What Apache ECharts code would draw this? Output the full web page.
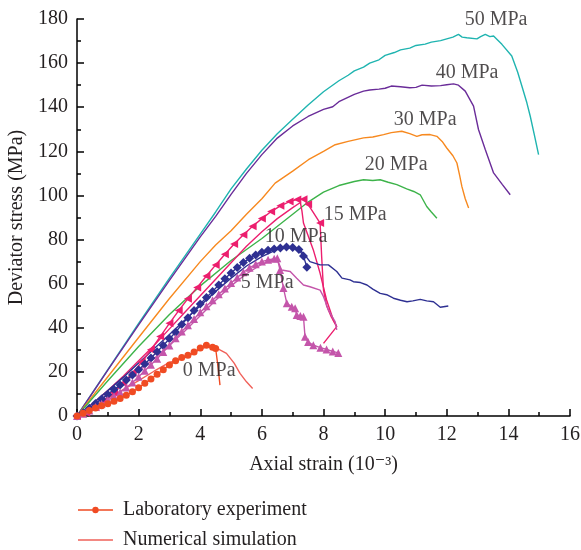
<!DOCTYPE html>
<html>
<head>
<meta charset="utf-8">
<script src="https://cdn.jsdelivr.net/npm/echarts@6/dist/echarts.min.js"></script>
<style>
html,body{margin:0;padding:0;background:#fff;}
#chart{width:581px;height:550px;}
</style>
</head>
<body>
<div id="chart"></div>
<script>
// ---- data (strain 10^-3, deviator stress MPa) ----
const xTicks = [0, 2, 4, 6, 8, 10, 12, 14, 16];
const yTicks = [0, 20, 40, 60, 80, 100, 120, 140, 160, 180];

const curve50 = [[0,0],[1,21],[2,42],[3,62.5],[4,82.5],[4.5,92.5],[5,103],[5.5,112],[6,120.5],[6.5,128],[7,134.5],[7.5,141],[8,147],[8.5,152],[8.8,154.5],[9,156.5],[9.3,158.2],[9.5,160],[9.8,161.5],[10,163.5],[10.3,164.8],[10.5,166],[10.8,166.8],[11,168],[11.3,168.6],[11.5,169.5],[11.8,170.2],[12,171],[12.2,171.8],[12.38,173],[12.5,171.8],[12.65,171.5],[12.98,171],[13.1,172],[13.25,173],[13.4,172],[13.52,172.3],[13.65,170.5],[13.79,168.5],[14.11,163.2],[14.3,156],[14.44,149.5],[14.6,142],[14.71,135.9],[14.85,127],[14.98,118.5]];
const curve40 = [[0,0],[1,20.8],[2,41.3],[3,61.5],[4,81.2],[4.5,90.5],[5,100.5],[5.5,110],[6,118.5],[6.5,126],[7,131.5],[7.5,135.8],[8,139],[8.3,140.2],[8.5,142.5],[9,145.8],[9.3,147.3],[9.5,147.8],[9.8,148.2],[10,148.6],[10.2,149.6],[10.5,149.3],[10.8,148.8],[11,149],[11.2,150],[11.5,149.6],[11.8,149.8],[12,150.2],[12.22,150.6],[12.38,150],[12.6,147.3],[12.87,140.5],[13.03,129.9],[13.25,120.8],[13.52,110.2],[13.8,105],[14.06,100.3]];
const curve30 = [[0,0],[1,17.8],[2,35.6],[3,53.3],[4,70],[4.5,77.5],[5,84],[5.5,91.5],[6,98.5],[6.43,105.6],[7,111],[7.51,116.2],[8,120],[8.38,123],[8.8,124.5],[9.3,126.1],[9.6,126.5],[9.95,127.6],[10.2,128.5],[10.54,129.1],[10.8,128],[11.03,126.8],[11.2,127.5],[11.46,127.6],[11.68,126.8],[11.85,124.5],[12,121.5],[12.2,118],[12.33,114.7],[12.42,109],[12.49,104.1],[12.6,98.5],[12.71,94.3]];
const curve20 = [[0,0],[1,16],[2,31.5],[3,46],[4,59],[5,70.5],[6,80.5],[7,91.5],[7.5,97],[8,101.5],[8.5,104.5],[9,106.3],[9.3,107.1],[9.6,106.8],[9.84,107.1],[10.1,106],[10.38,104.9],[10.7,103],[10.93,101.8],[11.14,100.3],[11.35,95],[11.5,92.5],[11.68,89.7]];

const exp15 = [[0,0],[0.3,1.5],[0.6,4],[0.9,7],[1.2,10.5],[1.5,15],[1.8,19.5],[2.1,24.5],[2.4,30],[2.7,36],[3,42],[3.3,47.8],[3.6,53.2],[3.9,58.3],[4.2,63.5],[4.5,68.5],[4.8,73.3],[5.1,78],[5.4,82.2],[5.7,86],[6,89.5],[6.3,92.7],[6.6,95.3],[6.9,97.2],[7.15,98.2],[7.35,98.3],[7.5,96],[7.89,87.5]];
const exp15Tail = [[7.89,87.5],[7.94,72.3],[8,57.1],[8.1,50],[8.25,45],[8.43,40.5],[8,32.9]];
const sim15 = [[0,0],[0.5,5.5],[1,11.5],[1.5,18],[2,25],[2.5,32],[3,39.5],[3.5,47],[4,54.5],[4.5,62],[5,69.5],[5.5,77],[6,83.5],[6.5,89.5],[7,94.5],[7.25,96.8],[7.3,93],[7.35,87.5],[7.67,75.3],[7.89,64.7],[8.1,52.6],[8.32,43.5],[8.43,40.5]];

const exp10 = [[0,0],[0.2,1.5],[0.4,3.5],[0.6,5.7],[0.8,7.7],[1,9.8],[1.2,12],[1.4,14],[1.6,16.3],[1.8,18.6],[2,21],[2.2,23.6],[2.4,26.3],[2.6,29.1],[2.8,32],[3,35],[3.2,38],[3.4,41.5],[3.6,44.6],[3.8,47.8],[4,50.8],[4.2,53.7],[4.4,56.5],[4.6,59.4],[4.8,62.2],[5,64.8],[5.2,67.3],[5.4,69.6],[5.6,71.5],[5.8,73],[6,74.2],[6.2,75.1],[6.4,75.7],[6.6,76.2],[6.8,76.6],[7,76.4],[7.2,75.5],[7.35,72.5],[7.46,67.5]];
const sim10 = [[0,0],[0.5,5.5],[1,11.5],[1.5,17.5],[2,24],[2.5,30.5],[3,37],[3.5,43.5],[4,50],[4.5,56.5],[5,62.5],[5.5,68],[6,72.3],[6.5,75.5],[6.9,76.5],[7.2,75.5],[7.35,73.8],[7.56,70],[7.89,68.5],[8.16,68.5],[8.43,65.5],[8.6,62.5],[8.86,61.7],[8.97,60.9],[9.2,60.5],[9.41,59.4],[9.6,57.5],[9.84,55.6],[10.05,55],[10.27,53.4],[10.5,52.5],[10.71,51.8],[10.9,52.2],[11.14,52.9],[11.35,52.2],[11.57,51.8],[11.79,49.3],[12.05,49.9]];

const exp5 = [[0,0],[0.2,1],[0.4,2.5],[0.6,4.1],[0.8,5.6],[1,7.2],[1.2,9],[1.4,10.8],[1.6,12.9],[1.8,15.2],[2,17.8],[2.2,20.5],[2.4,23.2],[2.6,26],[2.8,29],[3,32],[3.2,35.2],[3.4,38.3],[3.6,41.2],[3.8,44],[4,47],[4.2,49.8],[4.4,52.5],[4.6,55.2],[4.8,57.8],[5,60.3],[5.2,62.8],[5.4,65.2],[5.6,67.2],[5.8,68.8],[6,70],[6.2,70.8],[6.4,71.3],[6.5,71.5],[6.59,66.2],[6.7,58],[6.81,51.1],[6.97,49.5],[7.08,48.8],[7.13,45.8],[7.25,45.3],[7.35,45],[7.4,35.9],[7.5,33.5],[7.67,32.1],[7.9,31],[8.1,30.2],[8.3,29.3],[8.48,28.6]];
const sim5 = [[0,0],[0.5,4.8],[1,9.6],[1.5,14.8],[2,20.3],[2.5,26],[3,32],[3.5,38.5],[4,45.5],[4.5,52.5],[5,59],[5.5,64.5],[6,68.8],[6.3,70.5],[6.5,71],[6.64,66.2],[6.92,65.5],[7.13,62.5],[7.35,59.4],[7.56,58.6],[7.89,57.1],[8,54.1],[8.16,48],[8.38,42.7],[8.43,39]];

const exp0 = [[0,0],[0.2,1.2],[0.4,2.5],[0.6,3.6],[0.8,4.6],[1,5.6],[1.2,6.7],[1.4,7.9],[1.6,9.4],[1.8,11],[2,12.8],[2.2,14.8],[2.4,16.8],[2.6,18.9],[2.8,21],[3,23.1],[3.2,25],[3.4,26.5],[3.6,27.6],[3.8,29],[4,30.8],[4.2,32.1],[4.4,31.2],[4.5,30.6]];
const exp0Tail = [[4.5,30.6],[4.58,22],[4.64,14]];
const sim0 = [[0,0],[0.5,4],[1,8],[1.5,12],[2,16],[2.5,20.3],[3,24.3],[3.3,25.5],[3.6,27],[3.9,29.5],[4.2,31.5],[4.5,31],[4.85,28.4],[5.1,24],[5.29,19.3],[5.5,15.5],[5.7,12.5]];

const labelNames = ['50 MPa','40 MPa','30 MPa','20 MPa','15 MPa','10 MPa','5 MPa','0 MPa'];
const labelX = [13.6, 12.66, 11.3, 10.36, 9.03, 7.11, 6.17, 4.29];
const labelY = [179.5, 155.8, 134.4, 114, 91.2, 81.2, 60.3, 20.3];

// ---- chart ----
const FONT = '"Liberation Serif", "DejaVu Serif", serif';
const TXT = '#231f20';
const FS = 20;
const chart = echarts.init(document.getElementById('chart'), null, {renderer: 'canvas'});

function plain(name, data, color) {
  return {name, type: 'line', data, symbol: 'none', lineStyle: {color, width: 1.4}, itemStyle: {color}, z: 2};
}
function marked(name, data, color, symbol, size, rot) {
  return {name, type: 'line', data, symbol, symbolSize: size, symbolRotate: rot || 0, showSymbol: true,
    lineStyle: {color, width: 1.4}, itemStyle: {color, borderWidth: 0}, z: 3};
}

const C = {c50:'#1fb4b0', c40:'#6a2c99', c30:'#f7891f', c20:'#3db34a', c15:'#ec1e6e', c10:'#2e3092', c5:'#c455aa', c0:'#f04b23', s0:'#f0615a'};

const series = [
  plain('50', curve50, C.c50),
  plain('40', curve40, C.c40),
  plain('30', curve30, C.c30),
  plain('20', curve20, C.c20),
  plain('s15', sim15, C.c15),
  marked('e15', exp15, C.c15, 'triangle', 8, 90),
  plain('e15t', exp15Tail, C.c15),
  plain('s10', sim10, C.c10),
  marked('e10', exp10, C.c10, 'diamond', 9),
  plain('s5', sim5, C.c5),
  marked('e5', exp5, C.c5, 'triangle', 8),
  plain('Numerical simulation', sim0, C.s0),
  marked('Laboratory experiment', exp0, C.c0, 'circle', 7),
  plain('e0t', exp0Tail, C.c0),
  {
    name: 'labels', type: 'scatter', silent: true, symbolSize: 1,
    itemStyle: {color: 'rgba(0,0,0,0)'},
    data: labelNames.map((n, i) => ({name: n, value: [labelX[i], labelY[i]]})),
    label: {show: true, position: 'inside', formatter: '{b}', color: TXT, fontFamily: FONT, fontSize: FS},
    z: 5
  }
];

// legend icons in a 40x12 box (degenerate sub-paths fix the box): 35px line, optional dot
const BOX = 'M0,0L40,0L40,0.01L0,0.01Z M0,12L40,12L40,12.01L0,12.01Z';
const LINE_ICON = 'path://' + BOX + ' M0,5.3L35,5.3L35,6.7L0,6.7Z';
const DOT_ICON = 'path://' + BOX + ' M0,5.3L15,5.3L15,6.7L0,6.7Z M20,5.3L35,5.3L35,6.7L20,6.7Z M14.3,6A3.2,3.2 0 1,1 20.7,6A3.2,3.2 0 1,1 14.3,6Z';

chart.setOption({
  animation: false,
  backgroundColor: '#fff',
  grid: {left: 77, right: 11, top: 19, bottom: 134, containLabel: false, outerBoundsMode: 'none'},
  legend: {
    data: [{name: 'Laboratory experiment', icon: DOT_ICON}, {name: 'Numerical simulation', icon: LINE_ICON}],
    orient: 'vertical', left: 78, top: 500, height: 50, padding: 0,
    itemWidth: 40, itemHeight: 12, itemGap: 10,
    textStyle: {fontFamily: FONT, fontSize: FS, color: TXT},
    selectedMode: false
  },
  xAxis: {
    type: 'value', min: xTicks[0], max: xTicks[xTicks.length - 1], interval: 2,
    name: 'Axial strain (10\u207B\u00B3)', nameLocation: 'middle', nameGap: 39,
    nameTextStyle: {fontFamily: FONT, fontSize: FS, color: TXT},
    axisLine: {show: true, onZero: false, lineStyle: {color: '#000', width: 1.5}},
    axisTick: {show: true, inside: true, length: 7, lineStyle: {color: '#000', width: 1.5}},
    minorTick: {show: true, splitNumber: 2, length: 4, lineStyle: {color: '#000', width: 1.5}},
    axisLabel: {fontFamily: FONT, fontSize: FS, color: TXT, margin: 9},
    splitLine: {show: false}
  },
  yAxis: {
    type: 'value', min: yTicks[0], max: yTicks[yTicks.length - 1], interval: 20,
    name: 'Deviator stress (MPa)', nameLocation: 'middle', nameGap: 48, nameRotate: 90,
    nameTextStyle: {fontFamily: FONT, fontSize: FS, color: TXT},
    axisLine: {show: true, onZero: false, lineStyle: {color: '#000', width: 1.5}},
    axisTick: {show: true, inside: true, length: 7, lineStyle: {color: '#000', width: 1.5}},
    minorTick: {show: true, splitNumber: 2, length: 4, lineStyle: {color: '#000', width: 1.5}},
    axisLabel: {fontFamily: FONT, fontSize: FS, color: TXT, margin: 9},
    splitLine: {show: false}
  },
  series
});
</script>
</body>
</html>
